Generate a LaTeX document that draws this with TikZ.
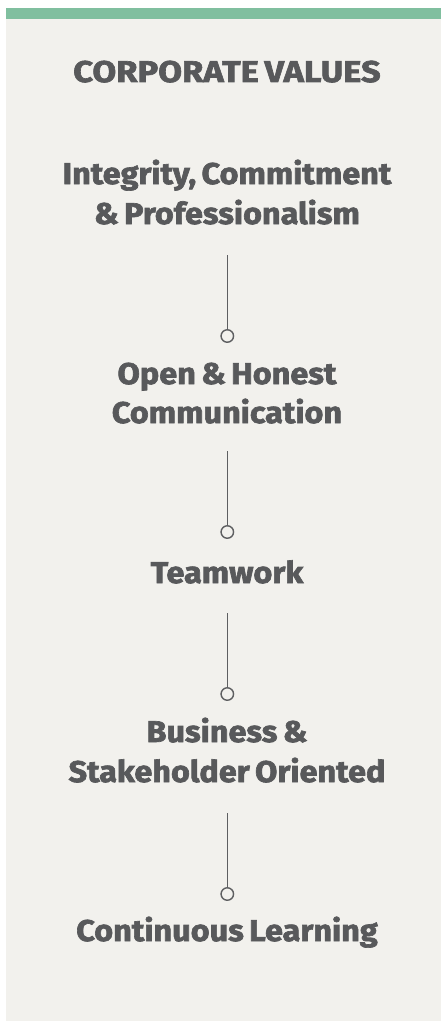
\documentclass[tikz,border=0pt]{standalone}
\usepackage{fontspec}
\setmainfont{Fira Sans}[BoldFeatures={FakeBold=2.2,FakeStretch=1.08},WordSpace=0.7]
\newfontfamily\titlefont{Fira Sans}[UprightFont=*,BoldFeatures={FakeBold=2.2,FakeStretch=1.15},WordSpace=0.7]
\definecolor{panelbg}{HTML}{F2F1ED}
\definecolor{barcol}{HTML}{80BF9F}
\definecolor{txtcol}{HTML}{58595B}
\definecolor{linecol}{HTML}{5E5F61}
\begin{document}
\begin{tikzpicture}[x=1pt,y=-1pt,
  val/.style={anchor=base,inner sep=0pt,text=txtcol,font=\fontsize{30}{36}\selectfont\bfseries},
  ttl/.style={anchor=base,inner sep=0pt,text=txtcol,font=\titlefont\fontsize{30}{36}\selectfont\bfseries},
  knob/.style={circle,draw=linecol,line width=1.4pt,minimum size=12.5pt,inner sep=0pt},
  stem/.style={draw=linecol,line width=0.9pt}]
\useasboundingbox (0,0) rectangle (441,1022);
\fill[panelbg] (6,8) rectangle (441,1021);
\fill[barcol] (6,8) rectangle (441,19);
\node[ttl] (title) at (227,82) {CORPORATE VALUES};
\node[val] (v1a) at (227,184) {Integrity, Commitment};
\node[val] (v1b) at (227,224) {\& Professionalism};
\node[knob] (c1) at (227.3,336) {};
\coordinate (s1) at (227.3,255);
\draw[stem] (s1) -- (c1.north);
\node[val] (v2a) at (227,384) {Open \& Honest};
\node[val] (v2b) at (227,423) {Communication};
\node[knob] (c2) at (227.3,532) {};
\coordinate (s2) at (227.3,451);
\draw[stem] (s2) -- (c2.north);
\node[val] (v3) at (227,583) {Teamwork};
\node[knob] (c3) at (227.3,694) {};
\coordinate (s3) at (227.3,613);
\draw[stem] (s3) -- (c3.north);
\node[val] (v4a) at (227,742) {Business \&};
\node[val] (v4b) at (227,782) {Stakeholder Oriented};
\node[knob] (c4) at (227.3,894) {};
\coordinate (s4) at (227.3,813);
\draw[stem] (s4) -- (c4.north);
\node[val] (v5) at (227,941) {Continuous Learning};
\end{tikzpicture}
\end{document}
